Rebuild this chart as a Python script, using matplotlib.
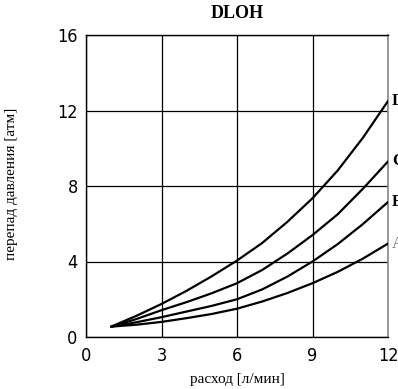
import matplotlib
matplotlib.use("Agg")
import matplotlib.pyplot as plt
from matplotlib import font_manager

# flow [l/min] and pressure drop [atm]
flow = [1, 2, 3, 4, 5, 6, 7, 8, 9, 10, 11, 12]
curve_d = [0.55, 1.12, 1.75, 2.45, 3.22, 4.05, 4.98, 6.1, 7.35, 8.82, 10.55, 12.5]
curve_c = [0.55, 0.95, 1.42, 1.85, 2.32, 2.85, 3.55, 4.42, 5.4, 6.5, 7.85, 9.3]
curve_b = [0.55, 0.78, 1.05, 1.35, 1.65, 2.0, 2.52, 3.2, 4.0, 4.92, 5.98, 7.15]
curve_a = [0.55, 0.65, 0.8, 1.0, 1.22, 1.5, 1.88, 2.33, 2.85, 3.45, 4.15, 4.95]
curve_names = ["D", "C", "B", "A"]

x_ticks = [0, 3, 6, 9, 12]
y_ticks = [0, 4, 8, 12, 16]

installed = {f.name for f in font_manager.fontManager.ttflist}
tick_font = "Liberation Sans Narrow" if "Liberation Sans Narrow" in installed else "DejaVu Sans"
serif_font = "Liberation Serif"

fig = plt.figure(figsize=(3.98, 3.89), dpi=100)
ax = fig.add_axes([86 / 398, 1 - 337 / 389, 302 / 398, 302 / 389])

for ys in [curve_d, curve_c, curve_b, curve_a]:
    ax.plot(flow, ys, color="black", lw=1.6, solid_capstyle="round",
            solid_joinstyle="round", zorder=3)

ax.set_xlim(0, 12)
ax.set_ylim(0, 16)
ax.set_xticks(x_ticks)
ax.set_yticks(y_ticks)
ax.grid(True, color="black", lw=0.9)
ax.tick_params(axis="x", length=0, pad=7)
ax.tick_params(axis="y", length=0, pad=6)
for lbl in ax.get_xticklabels() + ax.get_yticklabels():
    lbl.set_fontfamily(tick_font)
    lbl.set_fontstretch("condensed")
    lbl.set_fontsize(13)
    lbl.set_fontweight("light")
for s in ["left", "bottom", "top"]:
    ax.spines[s].set_linewidth(1.0)
ax.spines["right"].set_color("#888888")
ax.spines["right"].set_linewidth(1.2)

fig.text(237 / 398, 1 - 13 / 389, "DLOH", fontfamily=serif_font, fontweight="bold",
         fontsize=13, ha="center", va="center")
fig.text(237 / 398, 1 - 379 / 389, "расход [л/мин]", fontfamily=serif_font,
         fontsize=11, ha="center", va="center")
fig.text(12 / 398, 1 - 184 / 389, "перепад давления [атм]", rotation=90,
         fontfamily=serif_font, fontsize=11, ha="center", va="center")

# series names at the right end, partly cut off by the figure edge
ends = [curve_d[-1], curve_c[-1], curve_b[-1], curve_a[-1]]
for name, yv in zip(curve_names, ends):
    light = name == "A"
    ax.text(12.15, yv, name, fontfamily=serif_font, fontsize=12,
            fontweight="normal" if light else "bold",
            color="#777777" if light else "black",
            ha="left", va="center", clip_on=False)

fig.savefig("out.png", dpi=100)
